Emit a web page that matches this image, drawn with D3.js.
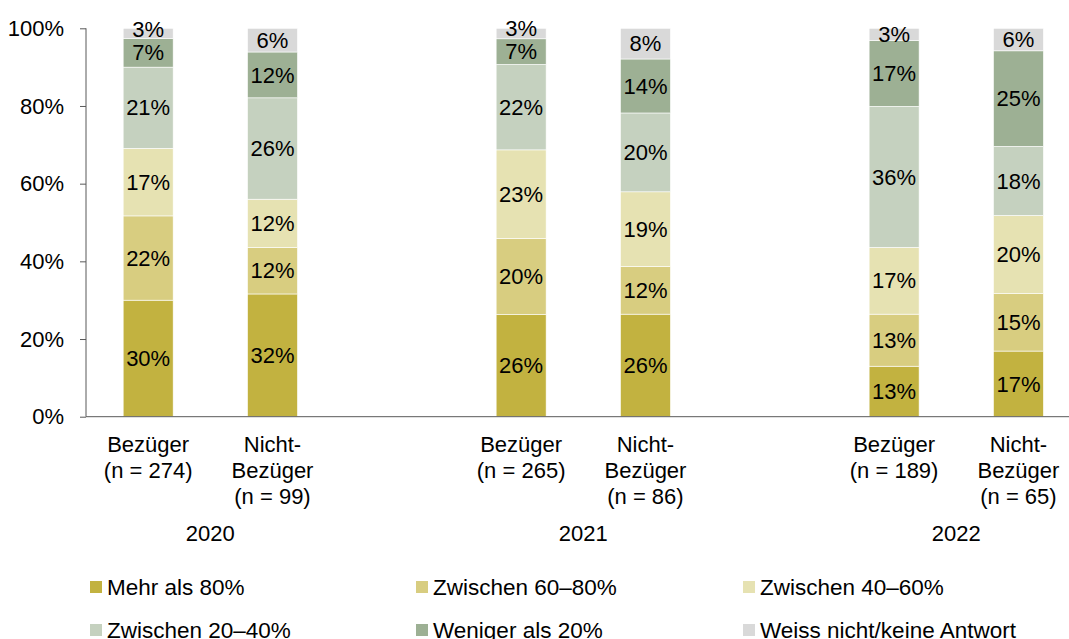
<!DOCTYPE html>
<html>
<head>
<meta charset="utf-8">
<script src="https://cdn.jsdelivr.net/npm/d3@7"></script>
<style>
  body { margin: 0; background: #fff; }
  svg text { font-family: "Liberation Sans", Arial, sans-serif; fill: #000; }
</style>
</head>
<body>
<svg id="chart" width="1069" height="639"></svg>
<script>
var slots = ["2020-B", "2020-N", "gap1", "2021-B", "2021-N", "gap2", "2022-B", "2022-N"];
var bars = ["2020-B", "2020-N", "2021-B", "2021-N", "2022-B", "2022-N"];
var barLabels = [
  ["Bezüger", "(n = 274)"], ["Nicht-", "Bezüger", "(n = 99)"],
  ["Bezüger", "(n = 265)"], ["Nicht-", "Bezüger", "(n = 86)"],
  ["Bezüger", "(n = 189)"], ["Nicht-", "Bezüger", "(n = 65)"]
];
var years = ["2020", "2021", "2022"];
var seriesNames = ["Mehr als 80%", "Zwischen 60–80%", "Zwischen 40–60%",
                   "Zwischen 20–40%", "Weniger als 20%", "Weiss nicht/keine Antwort"];
var colors = ["#C2B240", "#D8CD80", "#E6E2B2", "#C5D1BF", "#9DB094", "#D9D9D9"];

// one array per series, values per bar (percent)
var mehr80    = [30.0, 31.6, 26.3, 26.4, 13.0, 16.9];
var zw6080    = [21.7, 12.0, 19.6, 12.3, 13.4, 14.8];
var zw4060    = [17.4, 12.4, 22.8, 19.2, 17.2, 20.1];
var zw2040    = [20.9, 26.1, 22.0, 20.3, 36.3, 17.8];
var weniger20 = [ 7.4, 11.8,  6.6, 13.9, 17.0, 24.6];
var weissNich = [ 2.6,  6.1,  2.7,  7.9,  3.1,  5.8];
var yTicks = [0, 20, 40, 60, 80, 100];

var series = [mehr80, zw6080, zw4060, zw2040, weniger20, weissNich];
var table = bars.map(function(b, i) {
  var row = { id: b };
  series.forEach(function(s, k) { row["s" + k] = s[i]; });
  return row;
});

var svg = d3.select("#chart");
var plotLeft = 86, plotTop = 28.3, plotBottom = 416.7;
var fs = "22px";

var x = d3.scaleBand().domain(slots).range([plotLeft, 1080.6])
    .paddingInner(0.598).paddingOuter(0.299);
var y = d3.scaleLinear().domain([0, 100]).range([plotBottom, plotTop]);

var stack = d3.stack().keys(series.map(function(s, k) { return "s" + k; }));
var layers = stack(table);

var g = svg.append("g");
var layer = g.selectAll(".layer").data(layers).enter().append("g")
    .attr("fill", function(d, i) { return colors[i]; });

layer.selectAll("rect").data(function(d) { return d; }).enter().append("rect")
    .attr("x", function(d) { return x(d.data.id); })
    .attr("width", x.bandwidth())
    .attr("y", function(d) { return y(d[1]); })
    .attr("height", function(d) { return y(d[0]) - y(d[1]); })
    .attr("stroke", "#fff").attr("stroke-width", 0.6);

// label positions: segment middle, pushed up if too close to the label below
var minGap = 23;
var labelPos = bars.map(function(b, i) {
  var prev = Infinity;
  return layers.map(function(l) {
    var d = l[i], cy = (y(d[0]) + y(d[1])) / 2;
    if (prev - cy < minGap) cy = prev - minGap;
    prev = cy;
    return cy;
  });
});

var labels = svg.append("g");
layers.forEach(function(l, k) {
  labels.selectAll(null).data(l).enter().append("text")
    .attr("x", function(d) { return x(d.data.id) + x.bandwidth() / 2; })
    .attr("y", function(d, i) { return labelPos[i][k]; })
    .attr("dy", "0.35em")
    .attr("text-anchor", "middle")
    .style("font-size", fs)
    .text(function(d) { return Math.round(d[1] - d[0]) + "%"; });
});

// y axis
var yAxis = svg.append("g").attr("transform", "translate(" + plotLeft + ",0)")
    .call(d3.axisLeft(y).tickValues(yTicks).tickSize(6).tickPadding(16)
          .tickFormat(function(d) { return d + "%"; }));
yAxis.selectAll("path, line").attr("stroke", "#595959");
yAxis.selectAll("text").style("font-size", fs).attr("fill", "#000");
yAxis.select(".domain").attr("d", "M0," + plotTop + "V" + plotBottom);

// x axis baseline
svg.append("line")
    .attr("x1", plotLeft).attr("x2", 1069)
    .attr("y1", plotBottom).attr("y2", plotBottom)
    .attr("stroke", "#595959").attr("stroke-width", 1);

// category labels
bars.forEach(function(b, i) {
  var cx = x(b) + x.bandwidth() / 2;
  var t = svg.append("text")
      .attr("text-anchor", "middle")
      .attr("x", cx).attr("y", 452)
      .style("font-size", fs);
  barLabels[i].forEach(function(line, j) {
    t.append("tspan").attr("x", cx).attr("dy", j === 0 ? 0 : 26).text(line);
  });
});

// year labels
years.forEach(function(yr, i) {
  var a = x(bars[i * 2]) + x.bandwidth() / 2, b = x(bars[i * 2 + 1]) + x.bandwidth() / 2;
  svg.append("text").attr("text-anchor", "middle")
      .attr("x", (a + b) / 2).attr("y", 541)
      .style("font-size", fs).text(yr);
});

// legend
var legX = [90, 416, 743], legY = [581, 624];
seriesNames.forEach(function(name, i) {
  var lx = legX[i % 3], ly = legY[Math.floor(i / 3)];
  svg.append("rect").attr("x", lx).attr("y", ly).attr("width", 12).attr("height", 12)
      .attr("fill", colors[i]);
  svg.append("text").attr("x", lx + 17).attr("y", ly + 6).attr("dy", "0.35em")
      .style("font-size", "22.5px").text(name);
});
</script>
</body>
</html>
